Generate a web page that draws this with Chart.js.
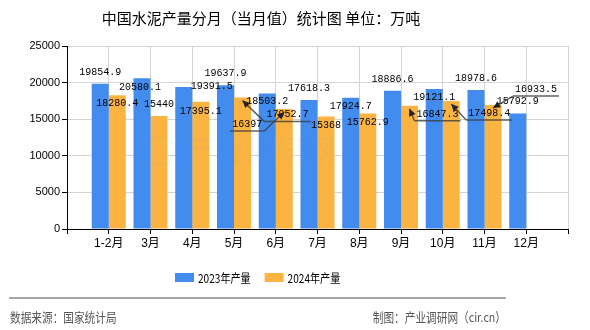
<!DOCTYPE html>
<html>
<head>
<meta charset="utf-8">
<script src="https://cdn.jsdelivr.net/npm/chart.js@4.4.1/dist/chart.umd.min.js"></script>
<style>
  html, body { margin: 0; padding: 0; background: #fff; }
</style>
</head>
<body>
<canvas id="chart" width="590" height="330"></canvas>
<script>
// data
const categories = ['1-2月', '3月', '4月', '5月', '6月', '7月', '8月', '9月', '10月', '11月', '12月'];
const output2023 = [19854.9, 20580.1, 19391.5, 19637.9, 18503.2, 17618.3, 17924.7, 18886.6, 19121.1, 18978.6, 15792.9];
const output2024 = [18280.4, 15440, 17395.1, 17952.7, 16397, 15368, 15762.9, 16847.3, 17498.4, 16933.5, null];
const seriesNames = ['2023年产量', '2024年产量'];
const titleText = '中国水泥产量分月（当月值）统计图 单位：万吨';
const sourceText = '数据来源：国家统计局';
const creditText = '制图：产业调研网（cir.cn）';

const BLUE = '#428cf0';
const ORANGE = '#fbb442';
const CJK = '"Noto Sans CJK SC", sans-serif';
const SANS = '"Liberation Sans", "Noto Sans CJK SC", sans-serif';

// label nudges [dx, dy, leader] relative to the bar top, as laid out in the picture
const labelShift = [
  [[0,-12],[-2,9],[28,-1],[0,-12],[0,8],[0,-12],[0,8],[0,-12],[0,8],[0,-12],[0,-12]],
  [[0,8],[0,-12],[0,9],[45,17,1],[-37,15,1],[0,9],[0,8],[28,8,1],[38,12,1],[43,-16,1],null]
];

// one empty slot at each end, like the original axis
const pad = arr => [null, ...arr, null];

const textScaled = (ctx, text, x, y, sx, align) => {
  ctx.save();
  ctx.translate(x, y);
  ctx.scale(sx, 1);
  ctx.textAlign = align;
  ctx.fillText(text, 0, 0);
  ctx.restore();
};

const decorations = {
  id: 'decorations',
  afterDraw(chart) {
    const ctx = chart.ctx;
    ctx.save();
    ctx.textBaseline = 'middle';

    // title
    ctx.fillStyle = '#000';
    ctx.font = '15px ' + CJK;
    ctx.textAlign = 'center';
    ctx.fillText(titleText, 261, 18);

    // legend
    let lx = 175;
    ctx.font = '12px ' + CJK;
    chart.data.datasets.forEach(ds => {
      ctx.fillStyle = ds.backgroundColor;
      ctx.fillRect(lx, 273, 19, 9);
      ctx.fillStyle = '#000';
      const w = ctx.measureText(ds.label).width * 0.84;
      textScaled(ctx, ds.label, lx + 23, 278, 0.84, 'left');
      lx += 23 + w + 14;
    });

    // footer
    ctx.strokeStyle = '#888';
    ctx.lineWidth = 1.5;
    ctx.beginPath();
    ctx.moveTo(9, 298);
    ctx.lineTo(506, 298);
    ctx.stroke();
    ctx.fillStyle = '#555';
    ctx.font = '13px ' + CJK;
    textScaled(ctx, sourceText, 10, 317, 0.82, 'left');
    textScaled(ctx, creditText, 506, 317, 0.82, 'right');
    ctx.restore();
  },
  afterDatasetsDraw(chart) {
    const ctx = chart.ctx;
    ctx.save();

    // faint watermark
    ctx.fillStyle = 'rgba(70,140,230,0.045)';
    ctx.font = '30px ' + CJK;
    ctx.textBaseline = 'middle';
    ctx.textAlign = 'left';
    ctx.fillText('产业调研网', 185, 150);
    ctx.strokeStyle = 'rgba(70,140,230,0.045)';
    ctx.lineWidth = 3;
    ctx.beginPath();
    ctx.arc(160, 150, 14, 0, Math.PI * 2);
    ctx.stroke();

    // value labels
    ctx.font = '11px "Liberation Mono", monospace';
    chart.data.datasets.forEach((ds, d) => {
      const meta = chart.getDatasetMeta(d);
      ds.data.forEach((v, i) => {
        if (v == null) return;
        const el = meta.data[i];
        const s = labelShift[d][i - 1] || [0, -12];
        const x = el.x + s[0];
        const y = el.y + s[1];
        const text = String(v);
        ctx.fillStyle = '#000';
        textScaled(ctx, text, x, y, 0.91, 'center');
        if (s[2]) {
          const w = ctx.measureText(text).width * 0.91;
          const uy = y + 7;
          const x0 = x - w / 2 - 2, x1 = x + w / 2 + 2;
          const tipX = el.x, tipY = el.y + 3;
          const ex = tipX < x ? x0 : x1;
          ctx.strokeStyle = 'rgba(60,60,60,0.8)';
          ctx.lineWidth = 1.5;
          ctx.beginPath();
          ctx.moveTo(x0, uy);
          ctx.lineTo(x1, uy);
          ctx.moveTo(ex, uy);
          ctx.lineTo(tipX, tipY);
          ctx.stroke();
          // arrow head
          const a = Math.atan2(tipY - uy, tipX - ex);
          ctx.fillStyle = '#222';
          ctx.beginPath();
          ctx.moveTo(tipX, tipY);
          ctx.lineTo(tipX - 8 * Math.cos(a - 0.45), tipY - 8 * Math.sin(a - 0.45));
          ctx.lineTo(tipX - 8 * Math.cos(a + 0.45), tipY - 8 * Math.sin(a + 0.45));
          ctx.closePath();
          ctx.fill();
        }
      });
    });
    ctx.restore();
  }
};

const ctx = document.getElementById('chart').getContext('2d');

new Chart(ctx, {
  type: 'bar',
  data: {
    labels: ['', ...categories, ''],
    datasets: [
      { label: seriesNames[0], data: pad(output2023), backgroundColor: BLUE },
      { label: seriesNames[1], data: pad(output2024), backgroundColor: ORANGE }
    ]
  },
  options: {
    responsive: false,
    animation: false,
    devicePixelRatio: 1,
    layout: { padding: { top: 46, right: 22, left: 0, bottom: 0 } },
    datasets: {
      bar: { categoryPercentage: 0.815, barPercentage: 1 }
    },
    plugins: {
      legend: { display: false },
      title: { display: false },
      tooltip: { enabled: false }
    },
    scales: {
      x: {
        offset: false,
        grid: { offset: false, color: '#d4d4d4', tickColor: '#000', tickLength: 5 },
        border: { color: '#000', width: 1 },
        ticks: {
          color: '#000',
          font: { size: 12, family: SANS },
          padding: 2,
          autoSkip: false,
          maxRotation: 0
        },
        afterFit: s => { s.height = 101; }
      },
      y: {
        min: 0,
        max: 25000,
        grid: { color: '#d4d4d4', tickColor: '#000', tickLength: 5 },
        border: { color: '#000', width: 1 },
        ticks: {
          stepSize: 5000,
          color: '#000',
          font: { size: 11, family: SANS },
          padding: 2,
          callback: v => String(v)
        },
        afterFit: s => { s.width = 67; }
      }
    }
  },
  plugins: [decorations]
});
</script>
</body>
</html>
